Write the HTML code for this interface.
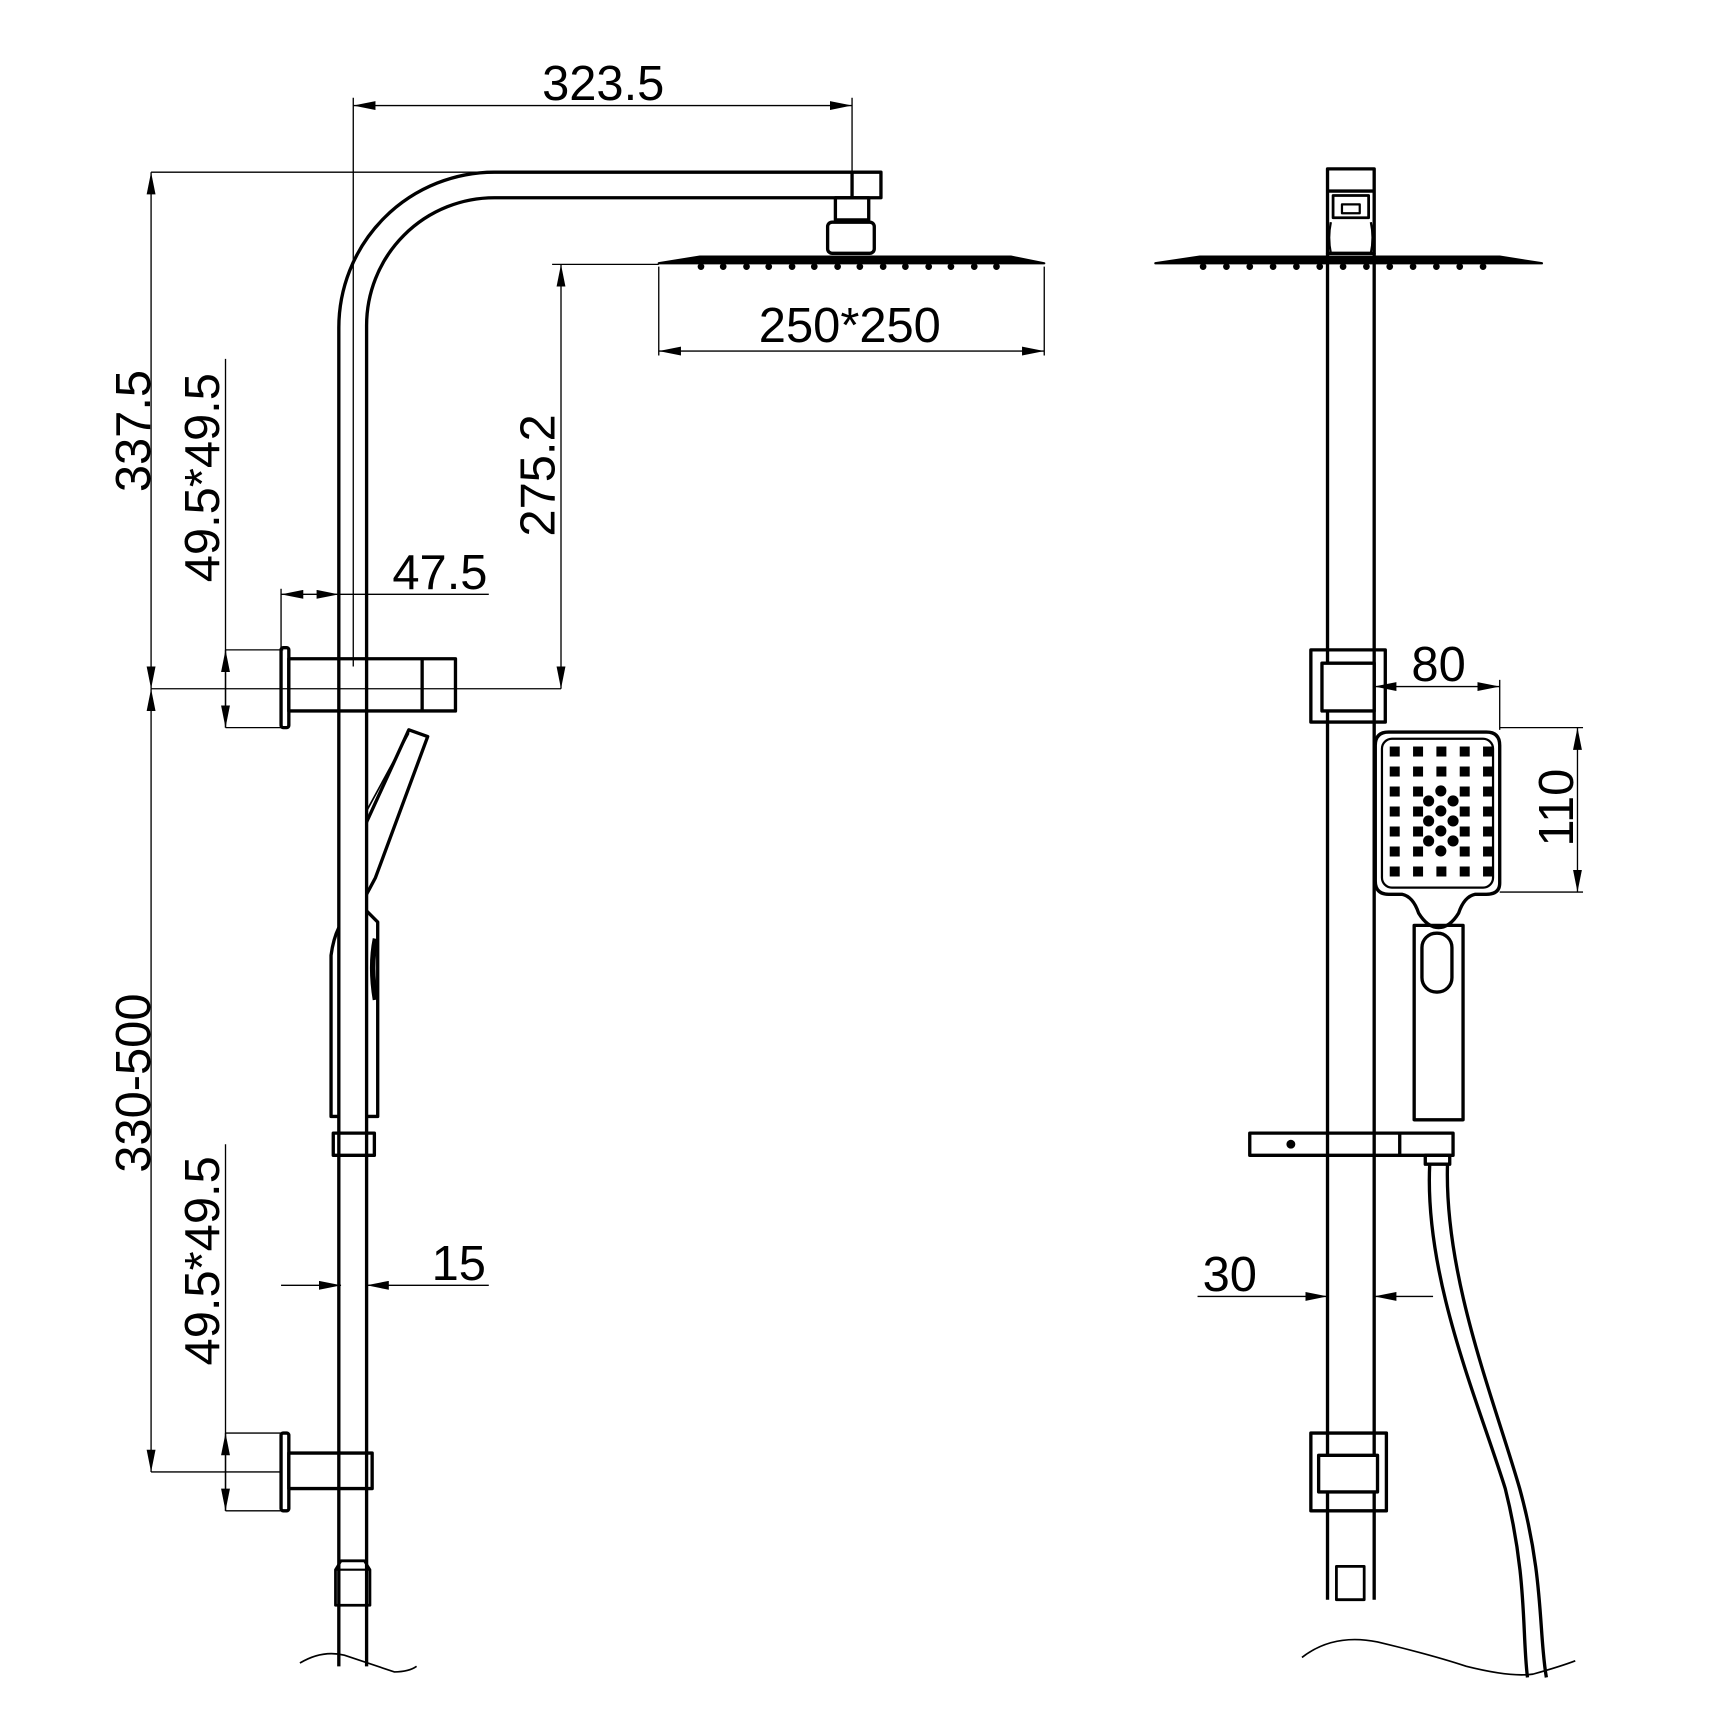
<!DOCTYPE html>
<html><head><meta charset="utf-8"><style>html,body{margin:0;padding:0;background:#fff}svg{display:block}</style></head>
<body>
<svg width="1733" height="1733" viewBox="0 0 1560 1560" xmlns="http://www.w3.org/2000/svg">
<defs>
<marker id="a" viewBox="0 0 20 8" refX="20" refY="4" markerWidth="20" markerHeight="8" markerUnits="userSpaceOnUse" orient="auto-start-reverse"><path d="M0,0 L20,4 L0,8 Z" fill="#000"/></marker>
</defs>
<g fill="none" stroke="#000" stroke-width="1.2">
<line x1="318" y1="95" x2="767" y2="95" marker-start="url(#a)" marker-end="url(#a)"/>
<line x1="318" y1="88" x2="318" y2="600"/>
<line x1="767" y1="88" x2="767" y2="155"/>
<line x1="136" y1="155" x2="445" y2="155"/>
<line x1="136" y1="155" x2="136" y2="620" marker-start="url(#a)" marker-end="url(#a)"/>
<line x1="136" y1="620" x2="136" y2="1325" marker-start="url(#a)" marker-end="url(#a)"/>
<line x1="136" y1="620" x2="505" y2="620"/>
<line x1="136" y1="1325" x2="253" y2="1325"/>
<line x1="203" y1="323" x2="203" y2="655"/>
<line x1="203" y1="585" x2="255" y2="585"/>
<line x1="203" y1="655" x2="255" y2="655"/>
<line x1="203" y1="585" x2="203" y2="655" marker-start="url(#a)" marker-end="url(#a)"/>
<line x1="505" y1="238" x2="505" y2="620" marker-start="url(#a)" marker-end="url(#a)"/>
<line x1="497" y1="238" x2="593" y2="238"/>
<line x1="253" y1="530" x2="253" y2="585"/>
<line x1="253" y1="535" x2="305" y2="535" marker-start="url(#a)" marker-end="url(#a)"/>
<line x1="305" y1="535" x2="440" y2="535"/>
<line x1="593" y1="240" x2="593" y2="320"/>
<line x1="940" y1="240" x2="940" y2="320"/>
<line x1="593" y1="316" x2="940" y2="316" marker-start="url(#a)" marker-end="url(#a)"/>
<line x1="253" y1="1157" x2="307" y2="1157" marker-end="url(#a)"/>
<line x1="440" y1="1157" x2="330" y2="1157" marker-end="url(#a)"/>
<line x1="203" y1="1030" x2="203" y2="1360"/>
<line x1="203" y1="1290" x2="255" y2="1290"/>
<line x1="203" y1="1360" x2="255" y2="1360"/>
<line x1="203" y1="1290" x2="203" y2="1360" marker-start="url(#a)" marker-end="url(#a)"/>
<line x1="1237" y1="618" x2="1350" y2="618" marker-start="url(#a)" marker-end="url(#a)"/>
<line x1="1350" y1="612" x2="1350" y2="657"/>
<line x1="1350" y1="655" x2="1425" y2="655"/>
<line x1="1350" y1="803" x2="1425" y2="803"/>
<line x1="1420" y1="655" x2="1420" y2="803" marker-start="url(#a)" marker-end="url(#a)"/>
<line x1="1078" y1="1167" x2="1195" y2="1167" marker-end="url(#a)"/>
<line x1="1290" y1="1167" x2="1237" y2="1167" marker-end="url(#a)"/>
</g>
<g fill="none" stroke="#000" stroke-width="3" stroke-linejoin="round">
<path d="M305,1500 L305,295 A140,140 0 0 1 445,155 L793,155 L793,178 L445,178 A115,115 0 0 0 330,293 L330,1500"/>
<line x1="767" y1="155" x2="767" y2="178"/>
<rect x="752" y="178" width="30" height="20"/>
<rect x="745" y="200" width="42" height="28" rx="4"/>
<path d="M593,237 L630,231 L910,231 L940,237 Z" fill="#000" stroke-width="2"/>
<rect x="253" y="583" width="7" height="72" rx="2"/>
<rect x="260" y="593" width="150" height="47"/>
<line x1="380" y1="593" x2="380" y2="640"/>
<path d="M330,740 L368,657 L385,663 L338,790 L330,805"/>
<path d="M330,730 L368,660" stroke-width="1.5"/>
<path d="M305,835 Q300,845 298,860 L298,1005 L305,1005"/>
<path d="M330,820 L340,830 L340,1005 L330,1005"/>
<path d="M338,845 Q333,870 338,900" stroke-width="5"/>
<rect x="300" y="1020" width="37" height="20"/>
<rect x="260" y="1308" width="75" height="32"/>
<rect x="253" y="1290" width="7" height="70" rx="2"/>
<path d="M307,1405 L328,1405 L333,1413 L333,1445 L302,1445 L302,1413 Z" stroke-width="2.5"/>
<line x1="302" y1="1413" x2="333" y2="1413" stroke-width="2"/>
<rect x="1195" y="152" width="42" height="76"/>
<line x1="1195" y1="172" x2="1237" y2="172"/>
<path d="M1200,176 L1232,176 L1232,196 L1200,196 Z" stroke-width="2.5"/>
<rect x="1208" y="184" width="16" height="8" stroke-width="2"/>
<path d="M1198,200 Q1195,214 1198,228 M1234,200 Q1237,214 1234,228" stroke-width="2"/>
<line x1="1195" y1="228" x2="1195" y2="1440"/>
<line x1="1237" y1="228" x2="1237" y2="1440"/>
<path d="M1040,237 L1080,231 L1350,231 L1388,237 Z" fill="#000" stroke-width="2"/>
<rect x="1180" y="585" width="67" height="65"/>
<rect x="1190" y="597" width="47" height="43" fill="#fff"/>
<path d="M1250,659 L1338,659 Q1350,659 1350,671 L1350,795 Q1350,805 1338,805 L1328,805 Q1318,807 1313,822 Q1305,835 1295,835 Q1285,835 1277,822 Q1272,807 1262,805 L1250,805 Q1238,805 1238,793 L1238,671 Q1238,659 1250,659 Z"/>
<rect x="1244" y="665" width="100" height="134" rx="9" stroke-width="2"/>
<rect x="1273" y="833" width="44" height="175"/>
<rect x="1280" y="840" width="27" height="53" rx="13"/>
<rect x="1125" y="1020" width="183" height="20"/>
<line x1="1260" y1="1020" x2="1260" y2="1040"/>
<rect x="1283" y="1040" width="22" height="8"/>
<path d="M1287,1048 C1282,1150 1330,1260 1355,1340 C1375,1420 1370,1470 1375,1510"/>
<path d="M1303,1048 C1300,1150 1345,1260 1368,1340 C1390,1420 1385,1470 1392,1510"/>
<rect x="1180" y="1290" width="68" height="70"/>
<rect x="1187" y="1310" width="53" height="33" fill="#fff"/>
<path d="M1203,1410 L1228,1410 L1228,1440 L1203,1440 Z" stroke-width="2.5"/>
</g>
<g fill="#000">
<g>
<circle cx="631" cy="240" r="3"/><circle cx="651" cy="240" r="3"/><circle cx="672" cy="240" r="3"/><circle cx="692" cy="240" r="3"/><circle cx="713" cy="240" r="3"/><circle cx="733" cy="240" r="3"/><circle cx="754" cy="240" r="3"/><circle cx="774" cy="240" r="3"/><circle cx="795" cy="240" r="3"/><circle cx="815" cy="240" r="3"/><circle cx="836" cy="240" r="3"/><circle cx="856" cy="240" r="3"/><circle cx="877" cy="240" r="3"/><circle cx="897" cy="240" r="3"/>
<circle cx="1083" cy="240" r="3"/><circle cx="1104" cy="240" r="3"/><circle cx="1125" cy="240" r="3"/><circle cx="1146" cy="240" r="3"/><circle cx="1167" cy="240" r="3"/><circle cx="1188" cy="240" r="3"/><circle cx="1209" cy="240" r="3"/><circle cx="1230" cy="240" r="3"/><circle cx="1251" cy="240" r="3"/><circle cx="1272" cy="240" r="3"/><circle cx="1293" cy="240" r="3"/><circle cx="1314" cy="240" r="3"/><circle cx="1335" cy="240" r="3"/>
</g>
<circle cx="1162" cy="1030" r="4"/>
<g>
<rect x="1251" y="672" width="9" height="9"/><rect x="1272" y="672" width="9" height="9"/><rect x="1293" y="672" width="9" height="9"/><rect x="1314" y="672" width="9" height="9"/><rect x="1335" y="672" width="9" height="9"/>
<rect x="1251" y="690" width="9" height="9"/><rect x="1272" y="690" width="9" height="9"/><rect x="1293" y="690" width="9" height="9"/><rect x="1314" y="690" width="9" height="9"/><rect x="1335" y="690" width="9" height="9"/>
<rect x="1251" y="708" width="9" height="9"/><rect x="1272" y="708" width="9" height="9"/><rect x="1314" y="708" width="9" height="9"/><rect x="1335" y="708" width="9" height="9"/>
<rect x="1251" y="726" width="9" height="9"/><rect x="1272" y="726" width="9" height="9"/><rect x="1314" y="726" width="9" height="9"/><rect x="1335" y="726" width="9" height="9"/>
<rect x="1251" y="744" width="9" height="9"/><rect x="1272" y="744" width="9" height="9"/><rect x="1314" y="744" width="9" height="9"/><rect x="1335" y="744" width="9" height="9"/>
<rect x="1251" y="762" width="9" height="9"/><rect x="1272" y="762" width="9" height="9"/><rect x="1314" y="762" width="9" height="9"/><rect x="1335" y="762" width="9" height="9"/>
<rect x="1251" y="780" width="9" height="9"/><rect x="1272" y="780" width="9" height="9"/><rect x="1293" y="780" width="9" height="9"/><rect x="1314" y="780" width="9" height="9"/><rect x="1335" y="780" width="9" height="9"/>
<circle cx="1297" cy="712" r="5"/><circle cx="1286" cy="721" r="5"/><circle cx="1308" cy="721" r="5"/><circle cx="1297" cy="730" r="5"/><circle cx="1286" cy="739" r="5"/><circle cx="1308" cy="739" r="5"/><circle cx="1297" cy="748" r="5"/><circle cx="1286" cy="757" r="5"/><circle cx="1308" cy="757" r="5"/><circle cx="1297" cy="766" r="5"/>
</g>
</g>
<g fill="none" stroke="#000" stroke-width="1.5">
<path d="M270,1497 Q290,1485 310,1490 Q340,1500 355,1505 Q368,1505 375,1500"/>
<path d="M1172,1492 Q1200,1470 1240,1478 Q1290,1490 1320,1500 Q1360,1510 1380,1507 Q1405,1500 1418,1495"/>
</g>
<g font-family="Liberation Sans, sans-serif" font-size="44" fill="#000" text-anchor="middle">
<text x="543" y="90">323.5</text>
<text x="765" y="308">250*250</text>
<text x="396" y="530">47.5</text>
<text x="413" y="1152">15</text>
<text x="1295" y="613">80</text>
<text x="1107" y="1162">30</text>
<text transform="translate(135,388) rotate(-90)">337.5</text>
<text transform="translate(135,975) rotate(-90)">330-500</text>
<text transform="translate(197,430) rotate(-90)">49.5*49.5</text>
<text transform="translate(197,1135) rotate(-90)">49.5*49.5</text>
<text transform="translate(499,428) rotate(-90)">275.2</text>
<text transform="translate(1416,727) rotate(-90)">110</text>
</g>
</svg>
</body></html>
